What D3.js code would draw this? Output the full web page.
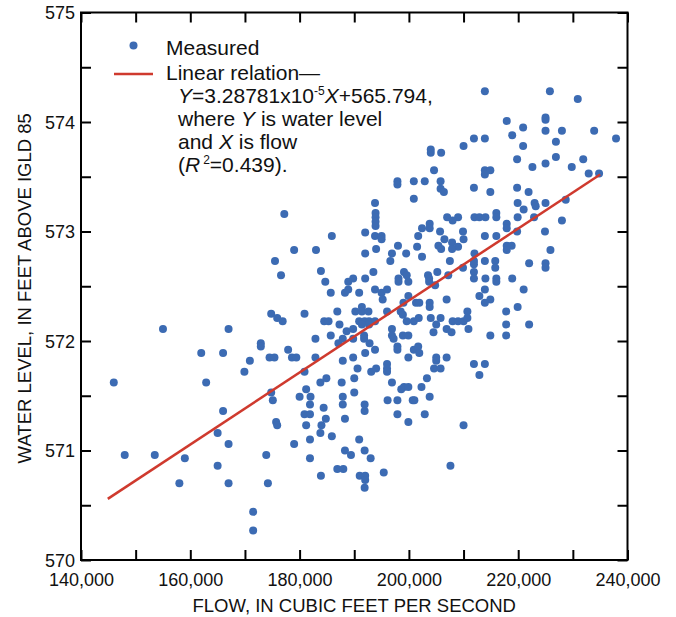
<!DOCTYPE html>
<html>
<head>
<meta charset="utf-8">
<script src="https://cdn.jsdelivr.net/npm/d3@7"></script>
<style>
  html, body { margin: 0; padding: 0; background: #fff; }
  svg { display: block; font-family: "Liberation Sans", Arial, Helvetica, sans-serif; }
</style>
</head>
<body>
<svg id="chart" width="676" height="617"></svg>
<script>
// Flow, in thousands of cubic feet per second
const flowK = [
  213.9,225.8,230.9,217.9,225.0,225.0,220.9,228.0,233.9,225.0,237.9,211.9,213.9,218.9,226.9,210.0,220.9,204.0,204.0,205.9,
  226.9,231.9,219.8,225.0,229.8,222.6,204.6,213.9,214.9,213.9,232.9,234.8,197.9,197.9,200.9,202.9,205.8,205.8,206.4,211.9,
  214.9,219.8,221.9,200.9,193.8,219.9,223.0,225.0,223.2,228.7,221.0,193.9,193.9,193.9,193.9,207.0,209.0,208.0,212.0,212.9,
  214.0,216.0,216.0,222.9,219.9,228.0,217.9,217.9,203.8,203.8,202.4,205.7,209.9,210.0,219.8,192.0,193.8,195.0,195.0,201.7,
  213.9,216.0,224.9,185.9,206.5,207.9,209.0,205.4,205.9,207.9,217.9,218.8,217.9,198.0,201.5,192.0,194.0,196.9,199.5,179.0,
  183.0,202.4,196.6,207.5,211.9,211.9,222.0,215.8,215.8,225.9,225.0,225.0,213.9,175.5,176.6,183.9,193.5,199.1,199.6,205.2,
  209.9,207.2,203.5,211.9,211.9,214.0,216.0,216.0,218.9,189.8,192.0,188.9,184.7,198.1,198.1,203.7,203.7,204.8,199.9,221.0,
  213.9,185.7,188.3,188.9,190.9,193.8,195.0,196.0,195.2,199.9,201.3,199.0,201.9,203.8,203.8,206.9,212.9,214.9,213.9,219.9,
  210.7,217.8,186.9,190.2,191.4,191.4,192.6,196.0,198.5,198.9,180.9,174.8,175.9,176.9,184.5,185.3,187.3,190.9,191.9,192.7,
  193.8,189.8,191.4,192.7,196.9,199.6,200.9,201.8,204.0,205.0,205.8,206.9,208.0,209.0,210.0,210.7,210.9,204.5,207.8,217.8,
  217.8,222.0,214.9,155.0,167.0,182.9,185.7,187.1,187.9,189.8,191.8,191.8,192.8,196.9,197.2,198.9,199.9,172.9,172.9,177.9,
  193.8,197.9,197.9,200.9,201.7,201.9,192.0,162.0,166.0,178.6,179.4,174.5,175.4,182.9,189.8,199.9,205.0,205.0,206.9,170.9,
  187.9,196.0,196.0,196.0,190.6,193.1,194.0,204.6,205.8,211.9,213.9,212.9,169.9,180.9,162.9,146.0,183.8,184.9,187.7,190.0,
  196.9,203.3,198.6,199.1,199.9,202.3,181.2,174.8,180.0,182.0,187.9,190.0,203.8,175.1,196.1,197.9,200.7,201.0,187.9,181.9,
  191.9,184.4,191.9,166.0,180.9,181.9,197.9,202.9,184.8,188.3,175.7,175.9,199.9,184.0,181.2,210.0,183.8,165.0,185.9,181.9,
  190.9,179.0,167.0,191.9,188.3,189.4,148.0,153.5,173.9,159.0,181.9,193.0,165.0,207.6,186.9,188.0,195.4,158.0,167.0,174.2,
  183.9,191.0,192.0,192.0,191.9,171.5,171.5,177.2,212.0,188.6
];
// Water level, in feet above IGLD 85 (same order)
const level = [
  574.28,574.28,574.21,574.01,574.04,574.02,573.95,573.92,573.92,573.92,573.85,573.85,573.85,573.88,573.82,573.78,573.78,573.75,573.72,573.72,
  573.68,573.66,573.66,573.62,573.59,573.59,573.56,573.56,573.56,573.52,573.53,573.53,573.46,573.43,573.46,573.46,573.46,573.39,573.36,573.40,
  573.36,573.40,573.36,573.30,573.26,573.26,573.26,573.26,573.23,573.29,573.20,573.17,573.13,573.09,573.05,573.13,573.13,573.10,573.13,573.13,
  573.13,573.17,573.13,573.13,573.13,573.10,573.07,573.03,573.07,573.03,573.03,573.00,573.00,572.93,573.00,572.99,572.96,572.96,572.93,572.96,
  572.96,572.96,573.00,572.96,572.93,572.90,572.86,572.87,572.84,572.84,572.87,572.87,572.83,572.87,572.86,572.80,572.84,572.80,572.80,572.83,
  572.83,572.77,572.73,572.73,572.73,572.70,572.71,572.73,572.67,572.83,572.71,572.67,572.73,572.73,572.60,572.64,572.63,572.63,572.60,572.63,
  572.67,572.60,572.60,572.63,572.57,572.57,572.57,572.54,572.57,572.57,572.57,572.54,572.54,572.57,572.54,572.57,572.54,572.51,572.54,572.47,
  572.47,572.44,572.44,572.47,572.44,572.47,572.44,572.47,572.38,572.41,572.35,572.35,572.35,572.35,572.31,572.38,572.41,572.38,572.35,572.31,
  572.27,572.27,572.27,572.27,572.31,572.27,572.27,572.27,572.27,572.24,572.25,572.25,572.21,572.18,572.18,572.18,572.15,572.18,572.18,572.18,
  572.18,572.11,572.15,572.15,572.11,572.18,572.18,572.21,572.21,572.15,572.21,572.11,572.18,572.18,572.18,572.21,572.11,572.08,572.08,572.15,
  572.05,572.15,572.05,572.11,572.11,572.02,572.05,571.98,572.02,572.02,572.05,572.02,571.98,572.05,572.02,572.05,572.05,571.98,571.95,571.92,
  571.92,571.95,571.92,571.92,571.95,571.89,571.89,571.89,571.89,571.85,571.85,571.85,571.85,571.85,571.85,571.85,571.85,571.82,571.85,571.82,
  571.82,571.79,571.75,571.72,571.75,571.72,571.75,571.75,571.75,571.79,571.79,571.69,571.72,571.72,571.62,571.62,571.62,571.66,571.62,571.66,
  571.62,571.66,571.56,571.58,571.58,571.58,571.56,571.53,571.49,571.49,571.49,571.53,571.49,571.46,571.46,571.46,571.46,571.46,571.42,571.42,
  571.42,571.39,571.36,571.36,571.33,571.33,571.33,571.33,571.29,571.29,571.26,571.23,571.26,571.23,571.23,571.23,571.16,571.16,571.13,571.10,
  571.10,571.06,571.06,571.00,571.00,570.96,570.96,570.96,570.96,570.93,570.93,570.93,570.86,570.86,570.83,570.83,570.80,570.70,570.70,570.70,
  570.77,570.77,570.77,570.73,570.66,570.44,570.27,573.16,572.80,572.09
];

// Axis definitions
const xDomain = [140000, 240000];
const yDomain = [570, 575];
const xMinorTicks = [140000,150000,160000,170000,180000,190000,200000,210000,220000,230000,240000];
const xLabelTicks = [140000,160000,180000,200000,220000,240000];
const yMinorTicks = [570,570.5,571,571.5,572,572.5,573,573.5,574,574.5,575];
const yLabelTicks = [570,571,572,573,574,575];

// Regression: Y = 3.28781e-5 X + 565.794
const slope = 3.28781e-5, intercept = 565.794;
const fitRange = [144900, 235000];

const xTitle = "FLOW, IN CUBIC FEET PER SECOND";
const yTitle = "WATER LEVEL, IN FEET ABOVE IGLD 85";

const dotColor = "#3c6bb3";
const lineColor = "#cf3a2e";

const svg = d3.select("#chart");
const L = 81, R = 627.5, T = 12.5, B = 560;
const x = d3.scaleLinear().domain(xDomain).range([L, R]);
const y = d3.scaleLinear().domain(yDomain).range([B, T]);
const fmt = d3.format(",");
const TICK = 10;

// ticks on all four sides (inward)
const bottomAxis = d3.axisBottom(x).tickValues(xMinorTicks).tickSize(-TICK).tickFormat(d => xLabelTicks.includes(d) ? fmt(d) : "");
const topAxis = d3.axisTop(x).tickValues(xMinorTicks).tickSize(-TICK).tickFormat("");
const leftAxis = d3.axisLeft(y).tickValues(yMinorTicks).tickSize(-TICK).tickFormat(d => yLabelTicks.includes(d) ? String(d) : "");
const rightAxis = d3.axisRight(y).tickValues(yMinorTicks).tickSize(-TICK).tickFormat("");

function styleAxis(g) {
  g.select(".domain").remove();
  g.selectAll(".tick line").attr("stroke", "#000").attr("stroke-width", 2);
  g.selectAll(".tick text").attr("fill", "#111").attr("font-size", 18).attr("font-family", "Liberation Sans, Arial, sans-serif");
}

const gb = svg.append("g").attr("transform", `translate(0,${B})`).call(bottomAxis).call(styleAxis);
gb.selectAll(".tick text").attr("y", 26).attr("dy", 0);
svg.append("g").attr("transform", `translate(0,${T})`).call(topAxis).call(styleAxis);
const gl = svg.append("g").attr("transform", `translate(${L},0)`).call(leftAxis).call(styleAxis);
gl.selectAll(".tick text").attr("x", -6).attr("dy", "0.36em");
svg.append("g").attr("transform", `translate(${R},0)`).call(rightAxis).call(styleAxis);

// frame
svg.append("rect").attr("x", L).attr("y", T).attr("width", R - L).attr("height", B - T)
  .attr("fill", "none").attr("stroke", "#000").attr("stroke-width", 2);

// points
const pts = flowK.map((f, i) => ({ f: f * 1000, v: level[i] }));
svg.append("g").selectAll("circle").data(pts).join("circle")
  .attr("cx", d => x(d.f)).attr("cy", d => y(d.v)).attr("r", 4)
  .attr("fill", dotColor);

// regression line
const line = d3.line().x(d => x(d)).y(d => y(slope * d + intercept));
svg.append("path").datum(fitRange).attr("d", line)
  .attr("fill", "none").attr("stroke", lineColor).attr("stroke-width", 2.5);

// axis titles
svg.append("text").attr("x", (L + R) / 2).attr("y", 612).attr("text-anchor", "middle")
  .attr("font-size", 18.5).attr("fill", "#111").text(xTitle);
svg.append("text").attr("transform", `translate(31,${(T + B) / 2 + 2}) rotate(-90)`).attr("text-anchor", "middle")
  .attr("font-size", 18.5).attr("fill", "#111").text(yTitle);

// legend
const lg = svg.append("g").attr("font-size", 21).attr("fill", "#111");
lg.append("circle").attr("cx", 133.5).attr("cy", 45.5).attr("r", 4).attr("fill", dotColor);
lg.append("text").attr("x", 166).attr("y", 55).text("Measured");
lg.append("line").attr("x1", 114).attr("x2", 153).attr("y1", 74).attr("y2", 74)
  .attr("stroke", lineColor).attr("stroke-width", 2.5);
lg.append("text").attr("x", 166).attr("y", 80).text("Linear relation\u2014");
const t3 = lg.append("text").attr("x", 178).attr("y", 103);
t3.append("tspan").attr("font-style", "italic").text("Y");
t3.append("tspan").text("=3.28781x10");
t3.append("tspan").attr("font-size", 12).attr("dy", -8).text("-5");
t3.append("tspan").attr("font-style", "italic").attr("dy", 8).text("X");
t3.append("tspan").text("+565.794,");
const t4 = lg.append("text").attr("x", 178).attr("y", 126);
t4.append("tspan").text("where ");
t4.append("tspan").attr("font-style", "italic").text("Y");
t4.append("tspan").text(" is water level");
const t5 = lg.append("text").attr("x", 178).attr("y", 149);
t5.append("tspan").text("and ");
t5.append("tspan").attr("font-style", "italic").text("X");
t5.append("tspan").text(" is flow");
const t6 = lg.append("text").attr("x", 178).attr("y", 172);
t6.append("tspan").text("(");
t6.append("tspan").attr("font-style", "italic").text("R");
t6.append("tspan").attr("font-size", 12).attr("dx", 3).attr("dy", -8).text("2");
t6.append("tspan").attr("dy", 8).text("=0.439).");
</script>
</body>
</html>
